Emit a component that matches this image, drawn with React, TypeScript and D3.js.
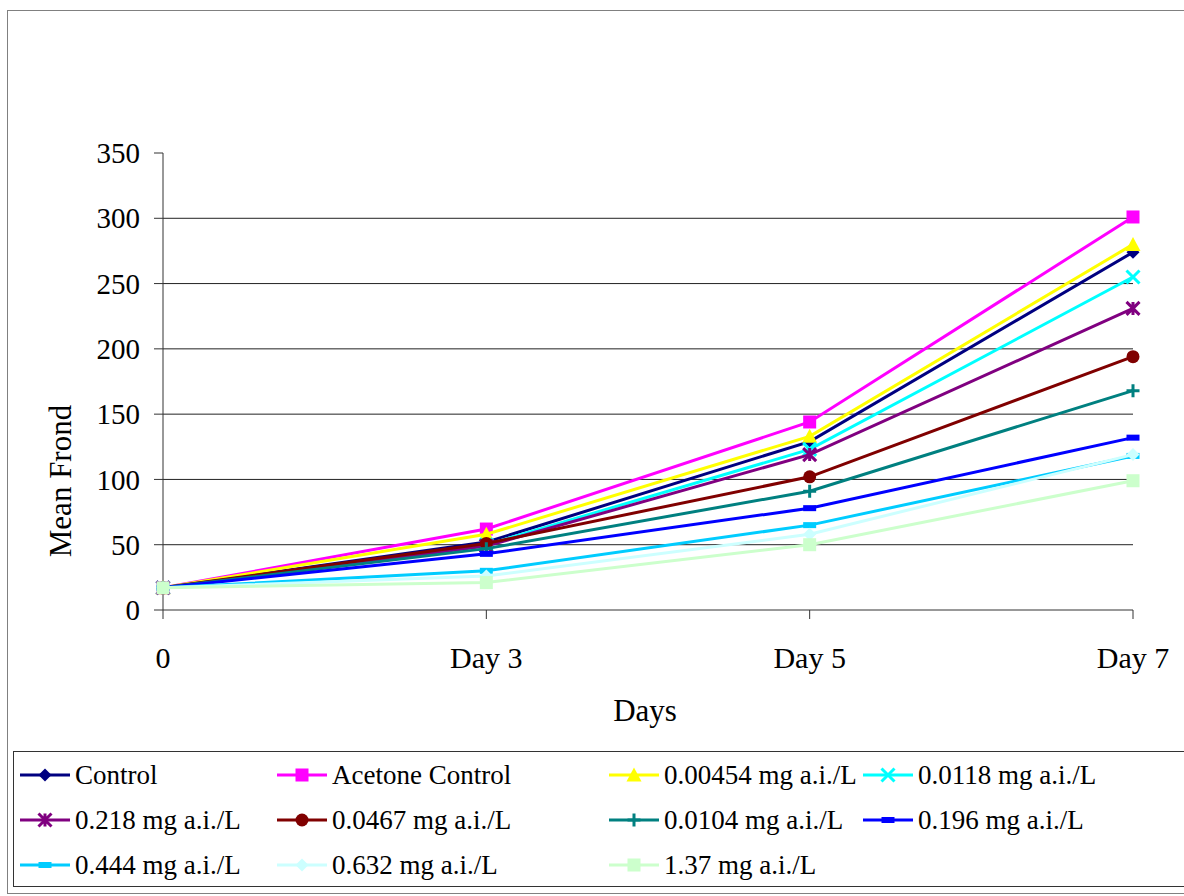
import React, { useEffect, useRef } from 'react';
import * as d3 from 'd3';

const categories = ['0', 'Day 3', 'Day 5', 'Day 7'];
const yTicks = [0, 50, 100, 150, 200, 250, 300, 350];

const seriesNames = [
  'Control', 'Acetone Control', '0.00454 mg a.i./L', '0.0118 mg a.i./L',
  '0.218 mg a.i./L', '0.0467 mg a.i./L', '0.0104 mg a.i./L', '0.196 mg a.i./L',
  '0.444 mg a.i./L', '0.632 mg a.i./L', '1.37 mg a.i./L',
];
const control = [17, 52, 129, 274];
const acetone = [17, 62, 144, 301];
const c00454 = [17, 58, 133, 280];
const c0118 = [17, 50, 123, 255];
const c0218 = [17, 49, 119, 231];
const c0467 = [17, 51, 102, 194];
const c0104 = [17, 47, 91, 168];
const c0196 = [17, 43, 78, 132];
const c0444 = [17, 30, 65, 118];
const c0632 = [17, 26, 58, 119];
const c137 = [17, 21, 50, 99];
const seriesValues = [control, acetone, c00454, c0118, c0218, c0467, c0104, c0196, c0444, c0632, c137];
const colors = ['#000080', '#FF00FF', '#FFFF00', '#00FFFF', '#800080', '#800000', '#008080', '#0000FF', '#00CCFF', '#CCFFFF', '#CCFFCC'];
const markers = ['diamond', 'square', 'triangle', 'x', 'star', 'circle', 'plus', 'dash', 'dash', 'diamond', 'square'];

const font = 'Liberation Serif, Times New Roman, serif';

function drawMarker(g: any, kind: string, x: number, y: number, color: string) {
  const s = 6.5;
  if (kind === 'diamond') {
    g.append('path').attr('d', `M${x},${y - s}L${x + s},${y}L${x},${y + s}L${x - s},${y}Z`).attr('fill', color);
  } else if (kind === 'square') {
    g.append('rect').attr('x', x - s).attr('y', y - s).attr('width', 2 * s).attr('height', 2 * s).attr('fill', color);
  } else if (kind === 'triangle') {
    g.append('path').attr('d', `M${x},${y - s - 1}L${x + s + 1},${y + s}L${x - s - 1},${y + s}Z`).attr('fill', color);
  } else if (kind === 'circle') {
    g.append('circle').attr('cx', x).attr('cy', y).attr('r', s).attr('fill', color);
  } else if (kind === 'x') {
    g.append('path').attr('d', `M${x - s},${y - s}L${x + s},${y + s}M${x - s},${y + s}L${x + s},${y - s}`)
      .attr('stroke', color).attr('stroke-width', 3);
  } else if (kind === 'star') {
    g.append('path').attr('d', `M${x - s},${y - s}L${x + s},${y + s}M${x - s},${y + s}L${x + s},${y - s}M${x},${y - s}L${x},${y + s}`)
      .attr('stroke', color).attr('stroke-width', 3);
  } else if (kind === 'plus') {
    g.append('path').attr('d', `M${x - s},${y}L${x + s},${y}M${x},${y - s}L${x},${y + s}`)
      .attr('stroke', color).attr('stroke-width', 3);
  } else if (kind === 'dash') {
    g.append('rect').attr('x', x - s).attr('y', y - 3).attr('width', 2 * s).attr('height', 6).attr('fill', color);
  }
}

const App: React.FC = () => {
  const svgRef = useRef<SVGSVGElement>(null);

  useEffect(() => {
    if (!svgRef.current) return;
    const svg = d3.select(svgRef.current);
    svg.selectAll('*').remove();
    svg.attr('font-family', font);

    const x = d3.scalePoint<string>().domain(categories).range([163, 1133]);
    const y = d3.scaleLinear().domain([0, 350]).range([610, 153]);

    // outer chart border
    svg.append('rect').attr('x', 7.5).attr('y', 10.5).attr('width', 1190).attr('height', 883)
      .attr('fill', '#fff').attr('stroke', '#808080');

    // gridlines
    yTicks.filter(t => t > 0 && t < 350).forEach(t => {
      svg.append('line').attr('x1', 163).attr('x2', 1133).attr('y1', y(t)).attr('y2', y(t))
        .attr('stroke', '#222').attr('stroke-width', 1);
    });

    // y axis
    svg.append('line').attr('x1', 163).attr('x2', 163).attr('y1', y(350)).attr('y2', y(0)).attr('stroke', '#333');
    yTicks.forEach(t => {
      svg.append('line').attr('x1', 154).attr('x2', 163).attr('y1', y(t)).attr('y2', y(t)).attr('stroke', '#333');
      svg.append('text').attr('x', 140).attr('y', y(t)).attr('dy', '0.35em').attr('text-anchor', 'end')
        .attr('font-size', 29).attr('fill', '#000').text(t);
    });

    // x axis
    svg.append('line').attr('x1', 163).attr('x2', 1133).attr('y1', y(0)).attr('y2', y(0)).attr('stroke', '#333');
    categories.forEach(c => {
      svg.append('line').attr('x1', x(c)!).attr('x2', x(c)!).attr('y1', y(0)).attr('y2', y(0) + 9).attr('stroke', '#333');
      svg.append('text').attr('x', x(c)!).attr('y', 668).attr('text-anchor', 'middle')
        .attr('font-size', 30).attr('fill', '#000').text(c);
    });

    svg.append('text').attr('x', 645).attr('y', 721).attr('text-anchor', 'middle')
      .attr('font-size', 31).text('Days');
    svg.append('text').attr('transform', 'translate(71,481) rotate(-90)').attr('text-anchor', 'middle')
      .attr('font-size', 31).text('Mean Frond');

    // series
    const line = d3.line<number>().x((d, i) => x(categories[i])!).y(d => y(d));
    seriesValues.forEach((vals, si) => {
      const g = svg.append('g');
      g.append('path').datum(vals).attr('d', line).attr('fill', 'none')
        .attr('stroke', colors[si]).attr('stroke-width', 3);
      vals.forEach((v, i) => drawMarker(g, markers[si], x(categories[i])!, y(v), colors[si]));
    });

    // legend
    svg.append('rect').attr('x', 13.5).attr('y', 751.5).attr('width', 1180).attr('height', 135)
      .attr('fill', '#fff').attr('stroke', '#333');
    const colX = [20, 277, 609, 863];
    const rowY = [775, 820, 865];
    seriesNames.forEach((name, i) => {
      const cx = colX[i % 4];
      const cy = rowY[Math.floor(i / 4)];
      const g = svg.append('g');
      g.append('line').attr('x1', cx).attr('x2', cx + 50).attr('y1', cy).attr('y2', cy)
        .attr('stroke', colors[i]).attr('stroke-width', 3);
      drawMarker(g, markers[i], cx + 25, cy, colors[i]);
      g.append('text').attr('x', cx + 55).attr('y', cy).attr('dy', '0.35em')
        .attr('font-size', 27).attr('fill', '#000').text(name);
    });
  }, []);

  return (
    <svg ref={svgRef} width={1184} height={896}
      style={{ position: 'absolute', left: 0, top: 0, background: '#fff' }} />
  );
};

export default App;
